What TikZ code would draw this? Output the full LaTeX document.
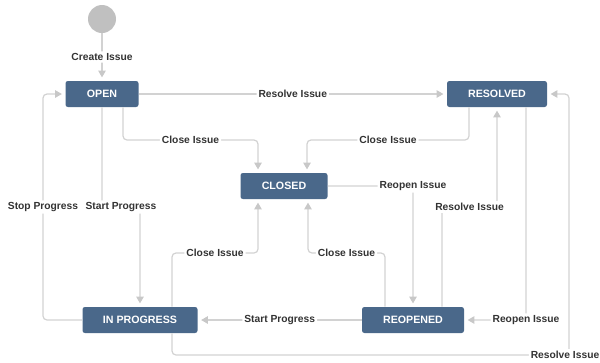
\documentclass[tikz,border=0pt]{standalone}
\usepackage{fontspec}
\setmainfont{Liberation Sans}
\usepackage{tikz}
\usepackage{xcolor}
\usetikzlibrary{arrows.meta,calc,positioning}
\definecolor{wfbox}{RGB}{74,104,138}
\definecolor{wfline}{RGB}{210,210,210}
\definecolor{wftip}{RGB}{200,200,200}
\definecolor{wftext}{RGB}{51,51,51}
\definecolor{wfstart}{RGB}{192,192,192}

\begin{document}
\begin{tikzpicture}[x=0.75pt,y=-0.75pt,>={Triangle[length=5pt,width=5.5pt,color=wftip]},
  stbox/.style={draw=none,fill=wfbox,rounded corners=1.8pt,text=white,
    font=\fontsize{8}{9}\selectfont\bfseries,minimum height=19.5pt,inner sep=0pt},
  conn/.style={wfline,line width=0.9pt,rounded corners=3pt,->,shorten >=2.5pt},
  lbl/.style={fill=white,text=wftext,font=\fontsize{7.7}{9}\selectfont\bfseries,
    inner sep=1.5pt}]
  \useasboundingbox (0,0) rectangle (600,362);
  % states
  \node[circle,fill=wfstart,minimum size=21pt,inner sep=0pt] (start) at (102,19) {};
  \node[stbox,minimum width=54.75pt] (open) at (102,94) {OPEN};
  \node[stbox,minimum width=75pt] (resolved) at (497,94) {RESOLVED};
  \node[stbox,minimum width=65.25pt] (closed) at (284,186) {CLOSED};
  \node[stbox,minimum width=86.25pt] (inprog) at (140,320) {IN PROGRESS};
  \node[stbox,minimum width=76.5pt] (reopened) at (413,320) {REOPENED};
  % bend points
  \coordinate (b1) at (123,140);  \coordinate (b2) at (258,140);
  \coordinate (b3) at (469,140);  \coordinate (b4) at (307,140);
  \coordinate (b5) at (102,207);  \coordinate (b6) at (140,207);
  \coordinate (b7) at (43,320);   \coordinate (b8) at (43,94);
  \coordinate (b9) at (172,253);  \coordinate (b10) at (258,253);
  \coordinate (b11) at (172,355); \coordinate (b12) at (569,355);
  \coordinate (b13) at (569,94);  \coordinate (b14) at (413,186);
  \coordinate (b15) at (385,253); \coordinate (b16) at (308,253);
  \coordinate (b17) at (442,207); \coordinate (b18) at (497,207);
  \coordinate (b19) at (526,320);
  % transitions
  \draw[conn] (start) -- node[lbl]{Create Issue} (open);
  \draw[conn] (open) -- node[lbl]{Resolve Issue} (resolved);
  \draw[conn] (b1 |- open.south) -- (b1) -- node[lbl]{Close Issue} (b2) -- (b2 |- closed.north);
  \draw[conn] (b3 |- resolved.south) -- (b3) -- node[lbl]{Close Issue} (b4) -- (b4 |- closed.north);
  \draw[conn] (open) -- (b5) -- node[lbl]{Start Progress} (b6) -- (inprog);
  \draw[conn] (inprog) -- (b7) -- node[lbl]{Stop Progress} (b8) -- (open);
  \draw[conn] (b9 |- inprog.north) -- (b9) -- node[lbl]{Close Issue} (b10) -- (b10 |- closed.south);
  \draw[conn] (b11 |- inprog.south) -- (b11) -- (b12) node[lbl,xshift=-3pt]{Resolve Issue} -- (b13) -- (resolved);
  \draw[conn] (closed) -- (b14) node[lbl]{Reopen Issue} -- (reopened);
  \draw[conn] (b15 |- reopened.north) -- (b15) -- node[lbl]{Close Issue} (b16) -- (b16 |- closed.south);
  \draw[conn] (b17 |- reopened.north) -- (b17) -- node[lbl]{Resolve Issue} (b18) -- (resolved);
  \draw[conn] (b19 |- resolved.south) -- (b19) node[lbl]{Reopen Issue} -- (reopened);
  \draw[conn] (reopened) -- node[lbl]{Start Progress} (inprog);
\end{tikzpicture}
\end{document}
